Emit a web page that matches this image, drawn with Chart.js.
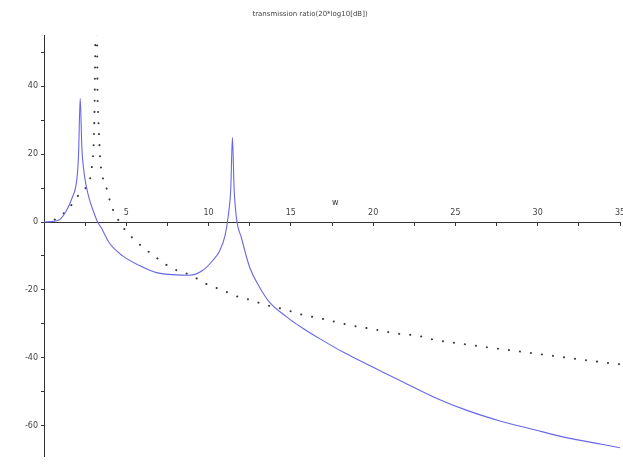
<!DOCTYPE html>
<html>
<head>
<meta charset="utf-8">
<script src="https://cdn.jsdelivr.net/npm/chart.js@4"></script>
<style>
  html, body { margin: 0; padding: 0; background: #fff; }
  #wrap { width: 623px; height: 464px; }
</style>
</head>
<body>
<div id="wrap"><canvas id="ratioChart"></canvas></div>
<script>
// values
const dampedW = [0, 0.9, 1.34, 1.7, 2.0, 2.1, 2.2, 2.3, 2.45, 2.56, 2.74, 3.0, 3.23, 3.48, 3.96, 4.76, 5.8, 6.83, 7.8, 8.84, 9.63, 10.24, 10.67, 11.0, 11.2, 11.35, 11.45, 11.55, 11.7, 12.0, 12.5, 13.1, 13.7, 14.76, 15.7, 16.8, 18.2, 21.6, 23.7, 25.7, 27.7, 29.8, 31.8, 33.8, 35];
const dampedDb = [0, 0.6, 3.2, 7, 12.8, 20, 36.5, 22, 14, 10.8, 7, 3.2, 0.3, -1.7, -6.1, -9.9, -12.8, -14.9, -15.5, -15.7, -14.3, -11.4, -8.5, -4, 2, 10, 25, 10, 1, -4.7, -13.4, -19.2, -23.6, -28, -31.2, -34.5, -38.4, -46.6, -51.6, -55.5, -58.6, -61.2, -63.6, -65.4, -66.5];

const undampedW = [0, 0.6, 1.52, 1.83, 2.26, 2.62, 2.9, 3.05, 3.2, 3.25, 3.3, 3.35, 3.4, 3.55, 3.8, 4.1, 4.45, 4.75, 5.2, 5.9, 6.7, 7.4, 8.1, 8.95, 9.75, 10.85, 11.9, 12.6, 13.3, 14.8, 15.5, 17, 18.5, 19.9, 21.5, 22.7, 23.7, 24.5, 29, 34.6, 35];
const undampedDb = [0, 0.6, 4.1, 6.1, 9.0, 10.8, 16, 28, 75, 39, 31, 25, 19.5, 13.7, 10, 4.7, 1.2, -1.2, -3.8, -7, -10, -12.5, -14.3, -15.7, -18, -20.1, -22.2, -23, -24.2, -26, -27.1, -28.6, -30.3, -31.5, -32.9, -33.5, -34.7, -35.3, -38.2, -41.7, -41.9];

const xTicks = [2.5, 5, 7.5, 10, 12.5, 15, 17.5, 20, 22.5, 25, 27.5, 30, 32.5, 35];
const xLabels = [5, 10, 15, 20, 25, 30, 35];
const yTicks = [50, 40, 30, 20, 10, 0, -10, -20, -30, -40, -50, -60];
const yLabels = [40, 20, 0, -20, -40, -60];

const toPoints = (xs, ys) => xs.map((x, i) => ({x: x, y: ys[i]}));

// small "w" label above the w axis
const axisNamePlugin = {
  id: 'axisName',
  afterDraw(chart) {
    const {ctx, scales} = chart;
    ctx.save();
    ctx.font = '8px "DejaVu Sans"';
    ctx.fillStyle = '#333';
    ctx.textAlign = 'center';
    ctx.textBaseline = 'bottom';
    ctx.fillText('w', scales.x.getPixelForValue(17.7), scales.y.getPixelForValue(4.5));
    ctx.restore();
  }
};

new Chart(document.getElementById('ratioChart'), {
  type: 'line',
  data: {
    datasets: [
      {
        data: toPoints(dampedW, dampedDb),
        borderColor: '#6767e6',
        borderWidth: 1.1,
        pointRadius: 0,
        cubicInterpolationMode: 'monotone'
      },
      {
        data: toPoints(undampedW, undampedDb),
        borderColor: '#3a3a3a',
        borderWidth: 2,
        borderDash: [0.1, 11],
        borderCapStyle: 'round',
        pointRadius: 0,
        cubicInterpolationMode: 'monotone'
      }
    ]
  },
  options: {
    responsive: true,
    maintainAspectRatio: false,
    animation: false,
    layout: { padding: { left: 0, right: 3, bottom: 2, top: 0 } },
    plugins: {
      legend: { display: false },
      tooltip: { enabled: false },
      title: {
        display: true,
        text: 'transmission ratio(20*log10[dB])',
        color: '#444',
        font: { family: 'DejaVu Sans', size: 7, weight: 'normal' },
        padding: { top: 10, bottom: 17 }
      }
    },
    scales: {
      x: {
        type: 'linear',
        min: 0,
        max: 35,
        position: { y: 0 },
        afterBuildTicks: s => { s.ticks = xTicks.map(v => ({value: v})); },
        border: { color: '#333', width: 1 },
        grid: { drawOnChartArea: false, tickLength: 3, color: '#333' },
        ticks: {
          autoSkip: false,
          maxRotation: 0,
          padding: -17,
          color: '#444',
          font: { family: 'DejaVu Sans', size: 8 },
          callback: v => xLabels.includes(v) ? String(v) : ''
        }
      },
      y: {
        type: 'linear',
        min: -69,
        max: 55,
        position: 'left',
        afterFit: s => { s.width = 44; },
        afterBuildTicks: s => { s.ticks = yTicks.map(v => ({value: v})); },
        border: { color: '#333', width: 1 },
        grid: { drawOnChartArea: false, tickLength: 3, color: '#333' },
        ticks: {
          autoSkip: false,
          padding: 3,
          color: '#444',
          font: { family: 'DejaVu Sans', size: 8 },
          callback: v => yLabels.includes(v) ? String(v) : ''
        }
      }
    }
  },
  plugins: [axisNamePlugin]
});
</script>
</body>
</html>
